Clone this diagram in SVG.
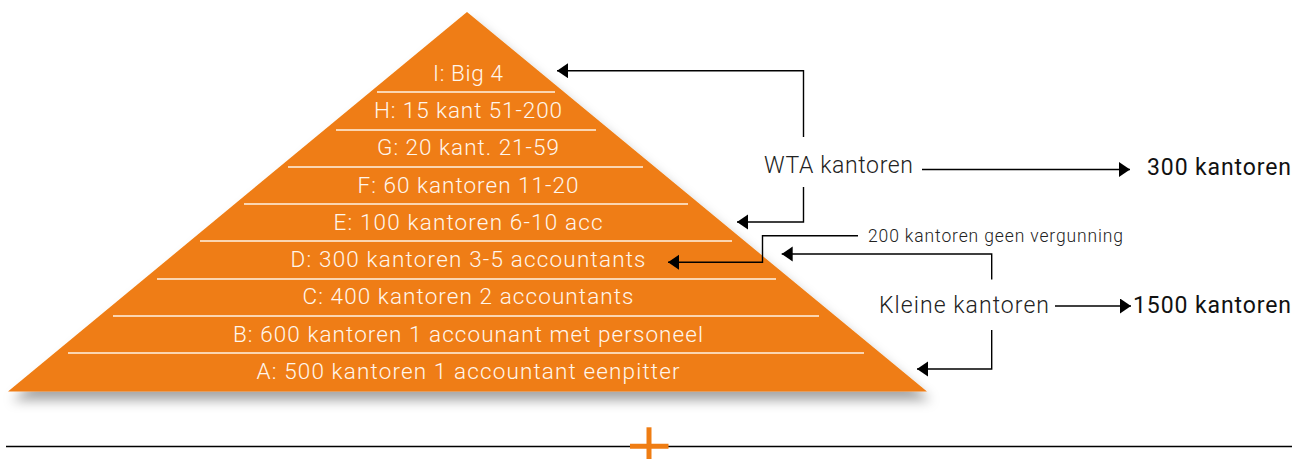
<svg xmlns="http://www.w3.org/2000/svg" width="1305" height="459" viewBox="0 0 1305 459">
<defs>
<filter id="sh" x="-10%" y="-10%" width="125%" height="135%">
<feDropShadow dx="4" dy="9" stdDeviation="6" flood-color="#000" flood-opacity="0.35"/>
</filter>
<marker id="ah" markerUnits="userSpaceOnUse" markerWidth="12" markerHeight="16" refX="11" refY="7.5" orient="auto">
<path d="M0,0 L11,7.5 L0,15 z" fill="#000"/>
</marker>
<style>
.pt{font-family:Roboto,"Liberation Sans",sans-serif;font-weight:300;font-size:22.5px;fill:#fff6ec;text-anchor:middle}
.dv{stroke:#fff3e4;stroke-width:1.6}
.lb{font-family:Roboto,"Liberation Sans",sans-serif;font-weight:300;font-size:23px;fill:#222}
.bl{font-family:Roboto,"Liberation Sans",sans-serif;font-weight:400;font-size:23px;fill:#111}
.sm{font-family:Roboto,"Liberation Sans",sans-serif;font-weight:300;font-size:17.5px;fill:#222}
.cn{fill:none;stroke:#000;stroke-width:1.4}
</style>
</defs>
<g id="pyramid">
<polygon points="467,12 927,391.5 8,391.5" fill="#ef7d13" filter="url(#sh)"/>
<line class="dv" x1="377" y1="92" x2="555" y2="92"/>
<line class="dv" x1="336" y1="130" x2="596" y2="130"/>
<line class="dv" x1="288" y1="167" x2="643" y2="167"/>
<line class="dv" x1="244" y1="204" x2="688" y2="204"/>
<line class="dv" x1="200" y1="241" x2="732" y2="241"/>
<line class="dv" x1="157" y1="279" x2="776" y2="279"/>
<line class="dv" x1="113" y1="316" x2="819" y2="316"/>
<line class="dv" x1="68" y1="353" x2="864" y2="353"/>
</g>
<g id="level-I"><text class="pt" x="468" y="81" textLength="70" lengthAdjust="spacing">I: Big 4</text></g>
<g id="level-H"><text class="pt" x="468" y="118" textLength="188" lengthAdjust="spacing">H: 15 kant 51-200</text></g>
<g id="level-G"><text class="pt" x="468" y="155" textLength="182" lengthAdjust="spacing">G: 20 kant. 21-59</text></g>
<g id="level-F"><text class="pt" x="468" y="192.7" textLength="221" lengthAdjust="spacing">F: 60 kantoren 11-20</text></g>
<g id="level-E"><text class="pt" x="468" y="229.5" textLength="269" lengthAdjust="spacing">E: 100 kantoren 6-10 acc</text></g>
<g id="level-D"><text class="pt" x="468" y="266.7" textLength="355" lengthAdjust="spacing">D: 300 kantoren 3-5 accountants</text></g>
<g id="level-C"><text class="pt" x="468" y="304.3" textLength="331" lengthAdjust="spacing">C: 400 kantoren 2 accountants</text></g>
<g id="level-B"><text class="pt" x="468" y="341.7" textLength="470" lengthAdjust="spacing">B: 600 kantoren 1 accounant met personeel</text></g>
<g id="level-A"><text class="pt" x="468" y="378.5" textLength="423" lengthAdjust="spacing">A: 500 kantoren 1 accountant eenpitter</text></g>
<g id="wta"><text class="lb" x="764" y="172.5" textLength="149" lengthAdjust="spacing">WTA kantoren</text></g>
<g id="wta-total"><text class="bl" x="1147" y="175" textLength="144" lengthAdjust="spacing">300 kantoren</text></g>
<g id="geen"><text class="sm" x="868" y="242" textLength="255" lengthAdjust="spacing">200 kantoren geen vergunning</text></g>
<g id="kleine"><text class="lb" x="879" y="313" textLength="170" lengthAdjust="spacing">Kleine kantoren</text></g>
<g id="kleine-total"><text class="bl" x="1133" y="313" textLength="158" lengthAdjust="spacing">1500 kantoren</text></g>
<g id="connectors">
<polyline class="cn" points="803.5,137 803.5,70.7 557,70.7" marker-end="url(#ah)"/>
<polyline class="cn" points="803.5,187 803.5,222 737,222" marker-end="url(#ah)"/>
<line class="cn" x1="922" y1="169.5" x2="1130" y2="169.5" marker-end="url(#ah)"/>
<polyline class="cn" points="858,235.7 762.5,235.7 762.5,262.3 668,262.3" marker-end="url(#ah)"/>
<polyline class="cn" points="991.7,279.5 991.7,254 781.7,254" marker-end="url(#ah)"/>
<line class="cn" x1="1055" y1="306" x2="1131" y2="306" marker-end="url(#ah)"/>
<polyline class="cn" points="991.7,330 991.7,369 917,369" marker-end="url(#ah)"/>
</g>
<g id="footer">
<line x1="6" y1="446.5" x2="1292" y2="446.5" stroke="#000" stroke-width="1.3"/>
<line x1="630" y1="446.3" x2="668.5" y2="446.3" stroke="#ef7d13" stroke-width="5"/>
<line x1="649" y1="427.3" x2="649" y2="459" stroke="#ef7d13" stroke-width="5"/>
</g>
</svg>
